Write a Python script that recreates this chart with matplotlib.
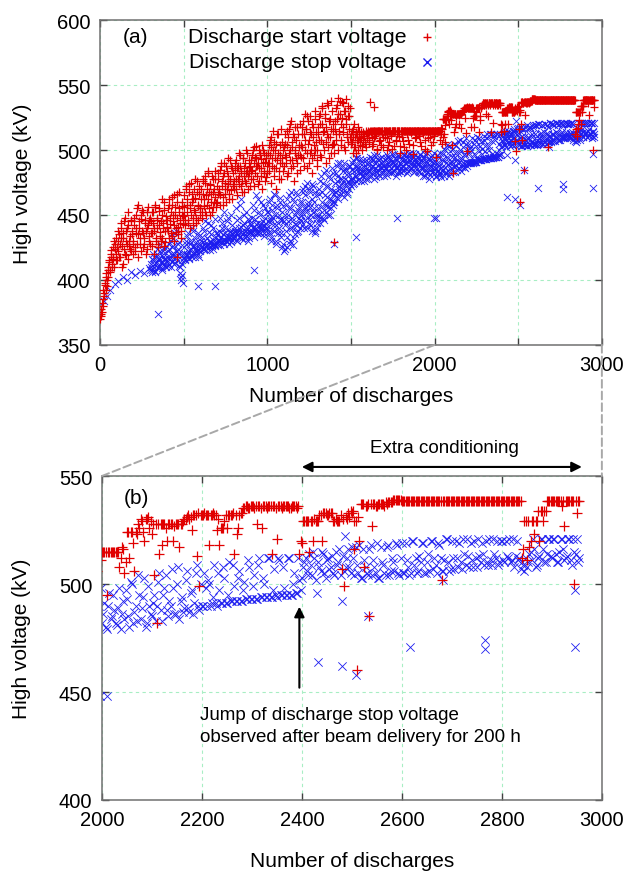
import numpy as np
import matplotlib
matplotlib.use("Agg")
import matplotlib.pyplot as plt
from matplotlib.patches import ConnectionPatch

plt.rcParams["font.family"] = ["Liberation Sans", "DejaVu Sans"]
plt.rcParams["font.size"] = 14.5

STEP = 5

# Discharge start voltage (kV): readings at discharges 0, 5, 10, ...
start_kv = [
    370, 378, 375, 385, 392, 388, 398, 405, 395, 410, 402, 415, 408, 420, 412, 425, 418, 410, 428, 420,
    415, 430, 422, 435, 418, 440, 426, 412, 432, 445, 420, 438, 428, 416, 442, 430, 424, 446, 435, 420,
    430, 448, 422, 440, 455, 435, 418, 445, 428, 450, 438, 425, 452, 432, 444, 420, 440, 456, 430, 446,
    428, 445, 436, 452, 420, 440, 458, 432, 448, 425, 442, 455, 437, 430, 450, 444, 426, 460, 438, 449,
    440, 455, 432, 462, 448, 436, 458, 445, 430, 465, 450, 440, 460, 435, 452, 468, 444, 438, 457, 449,
    450, 465, 442, 472, 458, 446, 468, 455, 440, 475, 460, 448, 470, 452, 463, 444, 476, 457, 466, 450,
    455, 470, 448, 478, 462, 452, 475, 465, 458, 482, 468, 450, 473, 460, 480, 456, 470, 464, 478, 459,
    460, 478, 468, 485, 465, 490, 472, 458, 482, 475, 466, 488, 470, 480, 462, 492, 476, 469, 486, 474,
    470, 485, 478, 492, 465, 488, 480, 496, 472, 484, 476, 494, 468, 490, 482, 475, 498, 480, 487, 472,
    478, 492, 485, 500, 472, 495, 488, 503, 480, 490, 476, 498, 486, 493, 470, 500, 484, 491, 479, 496,
    482, 498, 490, 508, 475, 502, 494, 515, 486, 500, 470, 505, 492, 512, 484, 496, 478, 506, 490, 500,
    488, 505, 495, 515, 480, 510, 498, 520, 486, 502, 492, 512, 476, 500, 508, 490, 518, 496, 504, 485,
    495, 512, 502, 522, 488, 508, 516, 498, 526, 505, 490, 514, 500, 520, 482, 510, 496, 524, 506, 492,
    500, 518, 508, 528, 495, 520, 532, 505, 515, 525, 490, 512, 535, 502, 522, 510, 498, 530, 515, 505,
    505, 522, 512, 535, 500, 528, 515, 538, 508, 525, 518, 536, 502, 530, 520, 512, 534, 506, 526, 510,
    505, 515, 498, 510, 520, 502, 512, 508, 518, 500, 510, 506, 514, 503, 511, 508, 512, 505, 513, 509,
    513, 506, 514, 537, 514, 503, 515, 509, 515, 511, 515, 501, 515, 507, 515, 515, 504, 515, 510, 515,
    515, 510, 515, 500, 515, 515, 506, 515, 512, 515, 515, 503, 515, 515, 508, 515, 515, 511, 515, 498,
    515, 515, 507, 515, 502, 515, 515, 512, 515, 515, 505, 515, 515, 515, 497, 515, 515, 509, 515, 515,
    515, 511, 515, 515, 503, 515, 515, 515, 508, 515, 515, 499, 515, 515, 515, 510, 515, 515, 506, 515,
    515, 515, 495, 515, 515, 515, 515, 508, 517, 505, 524, 512, 524, 506, 523, 526, 529, 520, 530, 526,
    523, 504, 482, 514, 528, 528, 520, 528, 528, 527, 528, 517, 528, 530, 531, 530, 525, 532, 513, 499,
    532, 533, 532, 518, 532, 532, 525, 518, 526, 529, 526, 532, 532, 514, 523, 532, 533, 535, 536, 535,
    536, 535, 528, 536, 526, 536, 535, 536, 514, 536, 521, 536, 535, 536, 536, 535, 536, 536, 535, 514,
    519, 529, 529, 515, 529, 530, 529, 532, 520, 533, 532, 533, 533, 529, 529, 529, 507, 499, 530, 531,
    533, 516, 460, 520, 537, 508, 536, 485, 527, 537, 536, 537, 537, 536, 537, 538, 538, 539, 539, 539,
    538.5, 538.5, 538.5, 538.5, 538.5, 538.5, 538.5, 538.5, 538.5, 538.5,
    538.5, 538.5, 538.5, 538.5, 538.5, 538.5, 502, 538.5, 538.5, 538.5,
    538.5, 538.5, 538.5, 538.5, 538.5, 538.5, 538.5, 538.5, 538.5, 538.5,
    538.5, 538.5, 538.5, 538.5, 538.5, 538.5, 538.5, 538.5, 538.5, 538.5,
    538.5, 538.5, 538.5, 538.5, 538.5, 538.5, 538.5, 538.5, 512, 529,
    511, 517, 529, 523, 529, 520, 534, 534, 538.5, 538.5,
    538.5, 538.5, 538.5, 538.5, 536, 527, 538.5, 538.5, 538.5, 500, 533, 538.5,
]

# Discharge start voltage (kV): readings at discharges 3, 8, 13, ...
start_kv_offset = [
    374, 372, 382, 380, 390, 396, 392, 402, 400, 408, 414, 406, 418, 423, 410, 416, 430, 424, 415, 432,
    425, 438, 418, 428, 444, 432, 410, 436, 424, 448, 430, 419, 440, 452, 426, 434, 445, 422, 438, 428,
    442, 425, 450, 436, 428, 458, 440, 432, 447, 422, 454, 436, 428, 446, 438, 452, 424, 442, 434, 448,
    436, 452, 426, 444, 438, 456, 430, 446, 440, 428, 453, 434, 445, 462, 432, 440, 454, 429, 446, 441,
    446, 438, 458, 443, 452, 434, 464, 450, 442, 456, 437, 448, 466, 441, 455, 446, 432, 460, 450, 443,
    456, 446, 470, 452, 462, 444, 474, 458, 450, 466, 442, 462, 454, 478, 448, 468, 458, 446, 472, 455,
    462, 452, 476, 466, 457, 480, 450, 470, 462, 484, 455, 474, 466, 452, 478, 468, 460, 484, 456, 472,
    466, 482, 470, 458, 488, 476, 464, 480, 490, 470, 460, 484, 474, 494, 466, 478, 488, 462, 482, 472,
    476, 490, 470, 486, 478, 498, 474, 488, 482, 468, 494, 480, 486, 476, 500, 484, 470, 492, 482, 488,
    484, 496, 478, 490, 502, 482, 494, 488, 474, 500, 486, 496, 480, 504, 490, 482, 498, 476, 494, 488,
    490, 504, 484, 496, 510, 488, 500, 480, 506, 494, 486, 512, 498, 478, 504, 490, 516, 494, 484, 502,
    496, 512, 490, 504, 482, 516, 500, 492, 522, 506, 488, 510, 498, 518, 494, 482, 512, 502, 520, 496,
    504, 518, 494, 512, 528, 500, 516, 486, 522, 508, 498, 526, 512, 494, 518, 504, 530, 500, 514, 488,
    512, 526, 496, 520, 508, 534, 514, 500, 528, 518, 506, 536, 510, 494, 524, 516, 538, 504, 520, 498,
    516, 532, 508, 524, 540, 512, 528, 504, 520, 537, 514, 530, 500, 524, 539, 510, 526, 516, 532, 506,
    512, 506, 516, 502, 510, 514, 498, 512, 508, 515, 504, 512, 509, 500, 514, 511, 506, 515, 502, 513,
    515, 508, 515, 515, 510, 515, 505, 515, 515, 512, 515, 500, 515, 515, 508, 515, 512, 515, 502, 515,
    515, 515, 509, 515, 504, 515, 515, 511, 515, 501, 515, 515, 515, 507, 515, 512, 515, 515, 503, 515,
    515, 510, 515, 515, 515, 500, 515, 515, 508, 515, 515, 513, 515, 504, 515, 515, 515, 510, 515, 515,
    515, 515, 506, 515, 515, 512, 515, 515, 501, 515, 515, 515, 509, 515, 515, 504, 515, 515, 515, 511,
    515, 515, 515, 515, 515, 515, 515, 512, 516, 510, 524, 524, 519, 524, 528, 530, 524, 530, 531, 529,
    528, 528, 528, 528, 528, 526, 528, 528, 520, 528, 528, 528, 529, 530, 532, 531, 532, 532, 533, 532,
    532, 532, 532, 532, 533, 532, 530, 526, 526, 532, 532, 532, 533, 532, 526, 533, 535, 536, 535, 536,
    536, 536, 536, 535, 536, 536, 536, 536, 536, 535, 536, 536, 536, 536, 536, 535, 536, 536, 536, 520,
    529, 529, 529, 529, 520, 529, 529, 532, 533, 533, 532, 533, 529, 530, 529, 532, 530, 531, 533, 534,
    534, 529, 531, 537, 537, 536, 537, 537, 537, 536, 537, 537, 537, 538, 538, 538, 539, 539, 539, 539,
    538.5, 538.5, 538.5, 538.5, 538.5, 538.5, 538.5, 538.5, 538.5, 538.5,
    538.5, 538.5, 538.5, 538.5, 538.5, 538.5, 538.5, 538.5, 538.5, 538.5,
    538.5, 538.5, 538.5, 538.5, 538.5, 538.5, 538.5, 538.5, 538.5, 538.5,
    538.5, 538.5, 538.5, 538.5, 538.5, 538.5, 538.5, 538.5, 538.5, 538.5,
    538.5, 538.5, 538.5, 538.5, 538.5, 538.5, 538.5, 538.5, 516, 529,
    529, 520, 529, 529, 534, 534, 529, 534, 538.5, 538.5,
    538.5, 538.5, 538.5, 538.5, 538.5, 538.5, 538.5, 538.5, 538.5, 538.5, 538.5,
]

# Isolated start readings
start_extra_x = [460, 1400, 1640, 2120, 2505]
start_extra_kv = [418, 429, 533, 518, 529]

# Discharge stop voltage (kV): readings at discharges 300, 305, ...
stop_kv = [
    408, 412, 406, 415, 410, 418, 407, 413, 420, 409, 416, 411, 422, 414, 409, 418, 412, 424, 415, 410,
    415, 422, 412, 428, 418, 410, 425, 432, 416, 420, 413, 438, 419, 424, 411, 429, 405, 400, 415, 398,
    418, 425, 415, 430, 420, 436, 417, 423, 428, 419, 440, 421, 426, 418, 432, 422, 427, 420, 434, 424,
    422, 430, 426, 440, 424, 428, 445, 425, 432, 427, 437, 423, 429, 442, 426, 431, 428, 447, 427, 433,
    428, 435, 430, 448, 427, 433, 440, 429, 452, 431, 436, 430, 445, 432, 428, 438, 433, 450, 431, 437,
    432, 440, 436, 455, 430, 437, 448, 433, 441, 462, 435, 431, 444, 438, 452, 434, 439, 430, 446, 437,
    435, 442, 438, 458, 433, 447, 440, 465, 437, 444, 452, 436, 441, 460, 439, 445, 434, 455, 443, 438,
    440, 452, 435, 462, 445, 430, 458, 448, 438, 465, 442, 428, 455, 436, 450, 460, 433, 446, 425, 457,
    422, 450, 438, 462, 425, 445, 455, 430, 468, 440, 448, 427, 460, 435, 452, 442, 465, 438, 456, 446,
    445, 460, 452, 470, 440, 465, 455, 448, 475, 458, 443, 468, 450, 462, 438, 472, 455, 436, 465, 448,
    440, 455, 470, 448, 480, 460, 452, 475, 446, 465, 485, 458, 450, 472, 462, 478, 455, 468, 482, 460,
    460, 475, 468, 488, 462, 480, 472, 490, 466, 478, 484, 470, 464, 486, 474, 468, 482, 476, 470, 488,
    472, 485, 478, 492, 475, 488, 480, 494, 477, 486, 482, 490, 476, 484, 492, 480, 487, 483, 478, 490,
    478, 490, 484, 495, 480, 488, 492, 482, 496, 486, 479, 493, 485, 489, 481, 494, 487, 483, 491, 485,
    480, 492, 486, 496, 483, 490, 488, 494, 482, 491, 485, 497, 484, 489, 493, 486, 482, 495, 488, 490,
    483, 494, 488, 497, 485, 492, 490, 496, 484, 493, 487, 498, 486, 491, 495, 489, 484, 497, 490, 492,
    484, 494, 488, 497, 482, 491, 486, 495, 480, 490, 485, 498, 483, 489, 492, 481, 487, 496, 484, 490,
    482, 491, 479, 496, 485, 488, 481, 498, 486, 484, 493, 480, 500, 487, 483, 495, 489, 503, 482, 490,
    485, 495, 490, 505, 483, 498, 488, 492, 507, 486, 500, 484, 494, 489, 506, 487, 497, 491, 509, 488,
    490, 505, 490, 500, 491, 509, 490, 497, 491, 503, 491, 510, 492, 499, 492, 506, 492, 501, 493, 508,
    493, 504, 493, 512, 494, 500, 494, 512, 494, 507, 494, 511, 495, 498, 495, 512, 495, 505, 496, 502,
    503, 510, 506, 514, 504, 512, 496, 508, 515, 505, 511, 507, 513, 504, 509, 516, 492, 506, 512, 508,
    517, 504, 509, 518, 503, 511, 505, 516, 504, 508, 519, 503, 510, 505, 517, 504, 512, 506, 518, 504,
    519, 505, 511, 504, 520, 509, 505, 513, 519, 505, 510, 506, 520, 512, 505, 518, 506, 511, 521, 506,
    520, 507, 512, 519, 507, 514, 521, 508, 511, 520, 508, 513, 519, 509, 510, 521, 509, 514, 520, 510,
    520, 510, 513, 521, 511, 508, 520, 512, 510, 506, 508, 514, 511, 516, 509, 513, 521, 510, 514, 521,
    512, 521, 510, 515, 521, 511, 513, 521, 509, 515, 521, 512,
]

# Discharge stop voltage (kV): readings at discharges 303, 308, ...
stop_kv_offset = [
    410, 416, 408, 420, 412, 406, 418, 414, 424, 410, 417, 428, 413, 419, 408, 422, 416, 411, 426, 414,
    418, 411, 424, 416, 430, 414, 420, 426, 412, 436, 418, 422, 415, 428, 420, 410, 402, 412, 404, 420,
    421, 416, 428, 419, 434, 422, 416, 430, 424, 418, 426, 438, 420, 424, 429, 419, 436, 423, 418, 428,
    425, 433, 424, 429, 438, 426, 423, 432, 428, 444, 425, 430, 435, 427, 424, 440, 430, 426, 436, 429,
    430, 427, 438, 432, 429, 444, 431, 435, 428, 440, 433, 430, 448, 434, 431, 437, 429, 442, 435, 432,
    434, 438, 431, 446, 435, 440, 433, 458, 437, 432, 442, 436, 450, 433, 440, 437, 447, 432, 438, 444,
    437, 448, 440, 436, 454, 439, 443, 436, 462, 441, 437, 450, 443, 438, 458, 442, 436, 448, 440, 452,
    445, 437, 460, 448, 432, 454, 442, 466, 438, 450, 430, 458, 444, 440, 463, 447, 436, 452, 428, 445,
    424, 442, 458, 433, 450, 465, 440, 428, 455, 445, 462, 432, 450, 443, 468, 437, 454, 448, 440, 460,
    450, 442, 468, 455, 446, 472, 452, 440, 460, 470, 447, 456, 442, 474, 452, 460, 438, 468, 450, 444,
    450, 466, 444, 476, 456, 468, 448, 482, 458, 452, 472, 464, 456, 480, 450, 470, 462, 486, 458, 466,
    468, 482, 464, 476, 490, 470, 478, 466, 486, 474, 468, 490, 478, 472, 484, 466, 480, 488, 474, 478,
    478, 490, 474, 484, 480, 494, 476, 488, 484, 478, 493, 482, 486, 480, 490, 476, 485, 492, 481, 486,
    484, 480, 492, 486, 482, 494, 488, 478, 490, 484, 496, 482, 488, 492, 480, 486, 490, 495, 482, 488,
    486, 494, 481, 489, 495, 484, 492, 486, 497, 483, 490, 488, 494, 480, 487, 492, 496, 484, 490, 486,
    488, 492, 484, 496, 490, 486, 494, 482, 491, 497, 485, 490, 493, 488, 498, 483, 492, 487, 495, 489,
    490, 483, 496, 486, 492, 480, 494, 488, 497, 482, 490, 486, 493, 478, 488, 495, 483, 491, 486, 498,
    486, 480, 490, 484, 495, 482, 489, 479, 492, 497, 485, 501, 482, 490, 504, 484, 494, 480, 499, 486,
    491, 483, 501, 488, 495, 504, 485, 490, 498, 486, 508, 492, 487, 502, 489, 496, 486, 505, 490, 500,
    490, 498, 502, 490, 494, 491, 505, 491, 508, 491, 495, 492, 509, 492, 503, 492, 497, 493, 511, 493,
    499, 493, 509, 494, 503, 494, 512, 494, 497, 495, 512, 495, 508, 495, 512, 495, 500, 496, 512, 497,
    508, 512, 504, 509, 515, 502, 510, 506, 514, 503, 512, 508, 505, 515, 510, 504, 513, 508, 516, 505,
    512, 517, 505, 503, 516, 508, 504, 518, 511, 505, 503, 517, 509, 504, 518, 506, 510, 519, 505, 512,
    505, 519, 508, 505, 520, 512, 506, 510, 519, 505, 514, 520, 507, 509, 519, 512, 506, 521, 510, 507,
    512, 520, 508, 510, 521, 509, 513, 519, 508, 512, 521, 510, 514, 520, 509, 511, 521, 512, 509, 520,
    511, 520, 512, 510, 521, 513, 511, 507, 509, 512, 510, 515, 521, 508, 512, 521, 516, 510, 521, 513,
    521, 514, 510, 521, 516, 512, 521, 511, 521, 514, 510,
]

# Sparse stop readings before the band forms, and isolated low readings
stop_early_x = [25, 40, 60, 90, 105, 135, 160, 185, 210, 240, 265, 290]
stop_early_kv = [384, 388, 392, 397, 399, 402, 400, 406, 404, 407, 405, 409]
stop_outlier_x = [345, 583, 685, 921, 1400, 1528, 1778, 1996, 2010, 2432, 2481, 2487,
                  2509, 2533, 2616, 2683, 2766, 2766, 2946, 2947]
stop_outlier_kv = [374, 395, 395, 408, 428, 433, 448, 448, 448, 464, 462, 522,
                   458, 485, 471, 502, 474, 470, 471, 497]

start_x = np.concatenate([np.arange(len(start_kv)) * STEP,
                          3 + np.arange(len(start_kv_offset)) * STEP, start_extra_x])
start_y = np.concatenate([start_kv, start_kv_offset, start_extra_kv])
stop_x = np.concatenate([300 + np.arange(len(stop_kv)) * STEP,
                         303 + np.arange(len(stop_kv_offset)) * STEP,
                         stop_early_x, stop_outlier_x])
stop_y = np.concatenate([stop_kv, stop_kv_offset, stop_early_kv, stop_outlier_kv])

RED = "#e00000"
BLUE = "#1c1cf0"
GRID = "#a8eec4"
FRAME = "#707070"


def draw_series(ax, plus_size, x_size):
    ax.scatter(stop_x, stop_y, marker="x", s=x_size, c=BLUE, linewidths=0.6, zorder=2)
    ax.scatter(start_x, start_y, marker="+", s=plus_size, c=RED, linewidths=0.9, zorder=3)


def style_axes(ax):
    ax.grid(True, color=GRID, linestyle=(0, (3, 3)), linewidth=0.8)
    ax.set_axisbelow(True)
    for sp in ax.spines.values():
        sp.set_color(FRAME)
        sp.set_linewidth(1.1)
    ax.tick_params(direction="in", top=True, right=True, length=5, width=1,
                   color="#404040", pad=7, labelsize=14.5)
    ax.xaxis.label.set_size(15)
    ax.yaxis.label.set_size(15)
    ax.xaxis.label.set_va("center")
    ax.yaxis.label.set_va("center")


fig = plt.figure(figsize=(6.25, 8.78), dpi=100)
ax_a = fig.add_axes([0.160, 0.606, 0.803, 0.370])
ax_b = fig.add_axes([0.163, 0.0877, 0.800, 0.369])

# Panel (a): full history
draw_series(ax_a, 34, 26)
ax_a.set_xlim(0, 3000)
ax_a.set_ylim(350, 600)
ax_a.set_xticks(np.arange(0, 3001, 500))
ax_a.set_xticklabels(["0", "", "1000", "", "2000", "", "3000"])
ax_a.set_yticks(np.arange(350, 601, 50))
ax_a.set_xlabel("Number of discharges")
ax_a.set_ylabel("High voltage (kV)")
style_axes(ax_a)
ax_a.xaxis.set_label_coords(0.5, -0.157)
ax_a.yaxis.set_label_coords(-0.155, 0.5)
ax_a.text(0.046, 0.948, "(a)", transform=ax_a.transAxes, ha="left", va="center", fontsize=15)
ax_a.text(0.61, 0.948, "Discharge start voltage", transform=ax_a.transAxes,
          ha="right", va="center", fontsize=15.4)
ax_a.text(0.61, 0.871, "Discharge stop voltage", transform=ax_a.transAxes,
          ha="right", va="center", fontsize=15.4)
ax_a.scatter([0.651], [0.948], marker="+", s=40, c=RED, linewidths=1.0,
             transform=ax_a.transAxes, clip_on=False)
ax_a.scatter([0.651], [0.871], marker="x", s=34, c=BLUE, linewidths=1.0,
             transform=ax_a.transAxes, clip_on=False)

# Panel (b): last thousand discharges
draw_series(ax_b, 48, 36)
ax_b.set_xlim(2000, 3000)
ax_b.set_ylim(400, 550)
ax_b.set_xticks(np.arange(2000, 3001, 200))
ax_b.set_yticks(np.arange(400, 551, 50))
ax_b.set_xlabel("Number of discharges")
ax_b.set_ylabel("High voltage (kV)")
style_axes(ax_b)
ax_b.xaxis.set_label_coords(0.5, -0.188)
ax_b.yaxis.set_label_coords(-0.16, 0.5)
ax_b.text(0.043, 0.935, "(b)", transform=ax_b.transAxes, ha="left", va="center", fontsize=15)

ax_b.annotate("", xy=(2960, 554.2), xytext=(2400, 554.2),
              arrowprops=dict(arrowstyle="<|-|>", color="black", lw=1.5,
                              mutation_scale=15, shrinkA=0, shrinkB=0),
              annotation_clip=False)
ax_b.text(2686, 563, "Extra conditioning", ha="center", va="center",
          clip_on=False, fontsize=13.5)

ax_b.annotate("", xy=(2395, 489.5), xytext=(2395, 452),
              arrowprops=dict(arrowstyle="-|>", color="black", lw=1.5,
                              mutation_scale=15, shrinkA=0, shrinkB=0))
ax_b.text(2196, 439.8, "Jump of discharge stop voltage", ha="left", va="center", fontsize=13.5)
ax_b.text(2196, 429.6, "observed after beam delivery for 200 h", ha="left", va="center",
          fontsize=13.5)

# Zoom connectors between the panels
for xa in (2000, 3000):
    con = ConnectionPatch(xyA=(xa, 350), coordsA=ax_a.transData,
                          xyB=(xa, 550), coordsB=ax_b.transData,
                          color="#a8a8a8", linestyle=(0, (4, 2)), linewidth=1.4)
    fig.add_artist(con)

fig.savefig("out.png", dpi=100)
